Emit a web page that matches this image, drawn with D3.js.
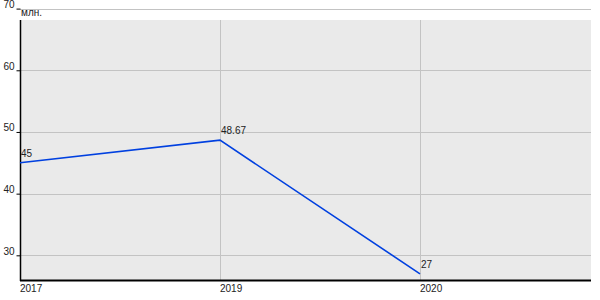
<!DOCTYPE html>
<html>
<head>
<meta charset="utf-8">
<script src="https://cdn.jsdelivr.net/npm/d3@7"></script>
<style>
  body { margin: 0; background: #fff; }
  text { font-family: "Liberation Sans", Arial, sans-serif; font-size: 10px; fill: #222; }
</style>
</head>
<body>
<svg id="chart" width="600" height="300"></svg>
<script>
// данные
var years = ["2017", "2019", "2020"];
var values = [45, 48.67, 27];
var yTicks = [30, 40, 50, 60, 70];
var unitLabel = "млн.";

var svg = d3.select("#chart");

var pLeft = 20, pRight = 591, pTop = 20, pBottom = 280;

var x = d3.scaleLinear()
    .domain([0, 2.855])
    .range([pLeft, pRight]);

var y = d3.scaleLinear()
    .domain([26, 70])
    .range([pBottom, 8.6]);

// фон
svg.append("rect")
    .attr("x", pLeft)
    .attr("y", pTop)
    .attr("width", pRight - pLeft)
    .attr("height", pBottom - pTop)
    .attr("fill", "#eaeaea");

// сетка
svg.selectAll(".hgrid")
    .data(yTicks)
  .enter().append("line")
    .attr("class", "hgrid")
    .attr("x1", pLeft)
    .attr("x2", pRight)
    .attr("y1", function(d) { return Math.round(y(d)) + 0.5; })
    .attr("y2", function(d) { return Math.round(y(d)) + 0.5; })
    .attr("stroke", "#c3c3c3");

svg.selectAll(".vgrid")
    .data(years.slice(1))
  .enter().append("line")
    .attr("class", "vgrid")
    .attr("x1", function(d, i) { return Math.round(x(i + 1)) + 0.5; })
    .attr("x2", function(d, i) { return Math.round(x(i + 1)) + 0.5; })
    .attr("y1", pTop)
    .attr("y2", pBottom)
    .attr("stroke", "#c3c3c3");

// оси
var yAxis = d3.axisLeft(y)
    .tickValues(yTicks)
    .tickSize(4)
    .tickPadding(2)
    .tickFormat(d3.format("d"));

var gy = svg.append("g")
    .attr("transform", "translate(" + (pLeft + 0.5) + ",0)")
    .call(yAxis);
gy.select(".domain").remove();
gy.selectAll(".tick line").attr("stroke", "#000");
gy.selectAll(".tick text").attr("dy", "-0.1em");

svg.append("line")
    .attr("x1", pLeft + 0.5).attr("x2", pLeft + 0.5)
    .attr("y1", pTop).attr("y2", pBottom + 1)
    .attr("stroke", "#000").attr("stroke-width", 1.5);

svg.append("line")
    .attr("x1", pLeft).attr("x2", pRight)
    .attr("y1", pBottom + 0.5).attr("y2", pBottom + 0.5)
    .attr("stroke", "#000").attr("stroke-width", 1.8);

svg.selectAll(".xlabel")
    .data(years)
  .enter().append("text")
    .attr("class", "xlabel")
    .attr("x", function(d, i) { return x(i); })
    .attr("y", 292)
    .text(function(d) { return d; });

svg.append("text")
    .attr("x", pLeft + 1)
    .attr("y", 15.5)
    .text(unitLabel);

// линия
var line = d3.line()
    .x(function(d, i) { return x(i); })
    .y(function(d) { return y(d); });

svg.append("path")
    .datum(values)
    .attr("d", line)
    .attr("fill", "none")
    .attr("stroke", "#0040e0")
    .attr("stroke-width", 1.6);

svg.selectAll(".vlabel")
    .data(values)
  .enter().append("text")
    .attr("class", "vlabel")
    .attr("x", function(d, i) { return x(i) + 1; })
    .attr("y", function(d) { return y(d) - 6; })
    .text(function(d) { return d; });
</script>
</body>
</html>
